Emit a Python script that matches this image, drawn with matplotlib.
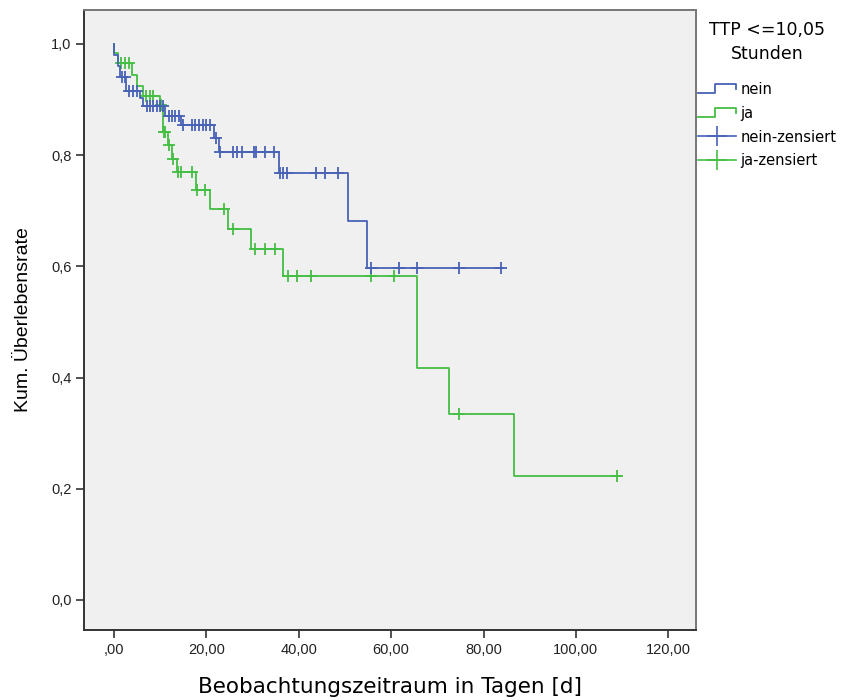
import numpy as np
import matplotlib
matplotlib.use("Agg")
import matplotlib.pyplot as plt
from matplotlib.lines import Line2D
from matplotlib.legend_handler import HandlerBase

# ==============
# Daten
# ==============
# Gruppe "nein": Ereigniszeiten [d] und Überlebensrate nach dem Ereignis
nein_times = [0.0, 0.1, 0.8, 1.3, 2.7, 5.6, 6.2, 11.0, 14.6, 21.6, 22.7, 35.8, 50.6, 54.7]
nein_surv = [1.0, 0.980, 0.960, 0.941, 0.915, 0.902, 0.888, 0.871, 0.854, 0.830, 0.806, 0.767, 0.682, 0.597]
nein_end = 84.3
nein_censored = [1.7, 2.4, 3.3, 4.2, 5.0, 7.1, 7.8, 8.5, 9.2, 9.9, 10.6,
                 11.8, 12.5, 13.2, 14.0, 15.0, 16.8, 17.6, 18.4, 19.2, 20.0, 20.8,
                 22.0, 23.0, 25.8, 26.7, 27.6, 30.2, 30.8, 32.7, 34.6,
                 35.9, 36.5, 37.5, 43.7, 45.7, 48.4,
                 55.6, 61.7, 65.7, 74.6, 83.8]

# Gruppe "ja"
ja_times = [0.0, 0.1, 0.8, 3.8, 4.9, 6.2, 9.9, 10.7, 11.6, 12.6, 13.7, 17.7, 20.8,
            24.7, 29.7, 36.6, 65.6, 72.6, 86.6]
ja_surv = [1.0, 0.983, 0.965, 0.944, 0.924, 0.907, 0.891, 0.841, 0.818, 0.793, 0.769,
           0.737, 0.704, 0.668, 0.632, 0.583, 0.417, 0.334, 0.223]
ja_end = 109.5
ja_censored = [1.6, 2.4, 3.2, 6.9, 7.8, 8.5, 10.2, 10.8, 11.1, 11.9, 12.7,
               13.9, 14.6, 16.8, 17.9, 19.8, 23.8, 25.7, 30.6, 32.7, 34.8,
               37.7, 39.7, 42.6, 55.7, 60.7, 74.6, 108.9]

x_ticks = [0, 20, 40, 60, 80, 100, 120]
x_tick_labels = [",00", "20,00", "40,00", "60,00", "80,00", "100,00", "120,00"]
y_ticks = [0.0, 0.2, 0.4, 0.6, 0.8, 1.0]
y_tick_labels = ["0,0", "0,2", "0,4", "0,6", "0,8", "1,0"]

BLUE = "#4862b6"
GREEN = "#44bf44"


def surv_at(times, surv, t):
    # Wert der Treppenfunktion zum Zeitpunkt t
    idx = np.searchsorted(times, t, side="right") - 1
    return np.asarray(surv)[idx]


class StepHandler(HandlerBase):
    def create_artists(self, legend, orig_handle, xdescent, ydescent,
                       width, height, fontsize, trans):
        x0 = -xdescent
        y0 = -ydescent
        xs = [x0, x0 + 0.45 * width, x0 + 0.45 * width, x0 + width, x0 + width]
        ys = [y0 + 0.1 * height, y0 + 0.1 * height, y0 + 0.95 * height,
              y0 + 0.95 * height, y0 + 0.45 * height]
        line = Line2D(xs, ys, color=orig_handle.get_color(), lw=1.3, transform=trans)
        return [line]


def main():
    fig = plt.figure(figsize=(8.5, 7), dpi=100)
    ax = fig.add_axes([84 / 850, 70 / 700, 612 / 850, 620 / 700])
    ax.set_facecolor("#f0f0f0")

    # ==============
    # Kaplan-Meier-Kurven
    # ==============
    for times, surv, end, cens, color in [
        (ja_times, ja_surv, ja_end, ja_censored, GREEN),
        (nein_times, nein_surv, nein_end, nein_censored, BLUE),
    ]:
        xs = list(times) + [end]
        ys = list(surv) + [surv[-1]]
        ax.step(xs, ys, where="post", color=color, lw=1.3)
        cy = [surv_at(times, surv, t) for t in cens]
        ax.plot(cens, cy, ls="none", marker="+", ms=9, mew=1.3, color=color)

    ax.set_xlim(-6.5, 126)
    ax.set_ylim(-0.054, 1.061)
    ax.set_xticks(x_ticks)
    ax.set_xticklabels(x_tick_labels, fontfamily="Liberation Sans", fontsize=10.5, color="#222222")
    ax.set_yticks(y_ticks)
    ax.set_yticklabels(y_tick_labels, fontfamily="Liberation Sans", fontsize=10.5, color="#222222")
    ax.tick_params(direction="out", length=6, width=1.2, color="#333333", pad=3)

    for side in ["left", "bottom"]:
        ax.spines[side].set_color("#333333")
        ax.spines[side].set_linewidth(1.4)
    for side in ["top", "right"]:
        ax.spines[side].set_color("#777777")
        ax.spines[side].set_linewidth(1.4)

    ax.set_ylabel("Kum. Überlebensrate", fontfamily="Liberation Sans", fontsize=14, labelpad=14)
    ax.set_xlabel("Beobachtungszeitraum in Tagen [d]", fontfamily="DejaVu Sans", fontsize=15.5, labelpad=15)

    # ==============
    # Legende
    # ==============
    h_nein = Line2D([], [], color=BLUE)
    h_ja = Line2D([], [], color=GREEN)
    h_nein_c = Line2D([], [], color=BLUE, marker="+", ms=14, mew=1.2, lw=1.2)
    h_ja_c = Line2D([], [], color=GREEN, marker="+", ms=14, mew=1.2, lw=1.2)
    leg = ax.legend(
        [h_nein, h_ja, h_nein_c, h_ja_c],
        ["nein", "ja", "nein-zensiert", "ja-zensiert"],
        handler_map={h_nein: StepHandler(), h_ja: StepHandler()},
        loc="upper left",
        bbox_to_anchor=(698 / 850, 1 - 21 / 700),
        bbox_transform=fig.transFigure,
        frameon=False,
        title="TTP <=10,05\nStunden",
        prop={"family": "DejaVu Sans", "size": 10.5},
        handlelength=2.6,
        handletextpad=0.3,
        labelspacing=0.6,
        borderpad=0,
        borderaxespad=0,
    )
    leg.get_title().set_fontfamily("DejaVu Sans")
    leg.get_title().set_fontsize(12.5)
    leg.get_title().set_linespacing(1.4)
    leg.get_title().set_multialignment("center")
    leg._legend_box.sep = 14

    fig.savefig("out.png", dpi=100)
    plt.close(fig)


if __name__ == "__main__":
    main()
